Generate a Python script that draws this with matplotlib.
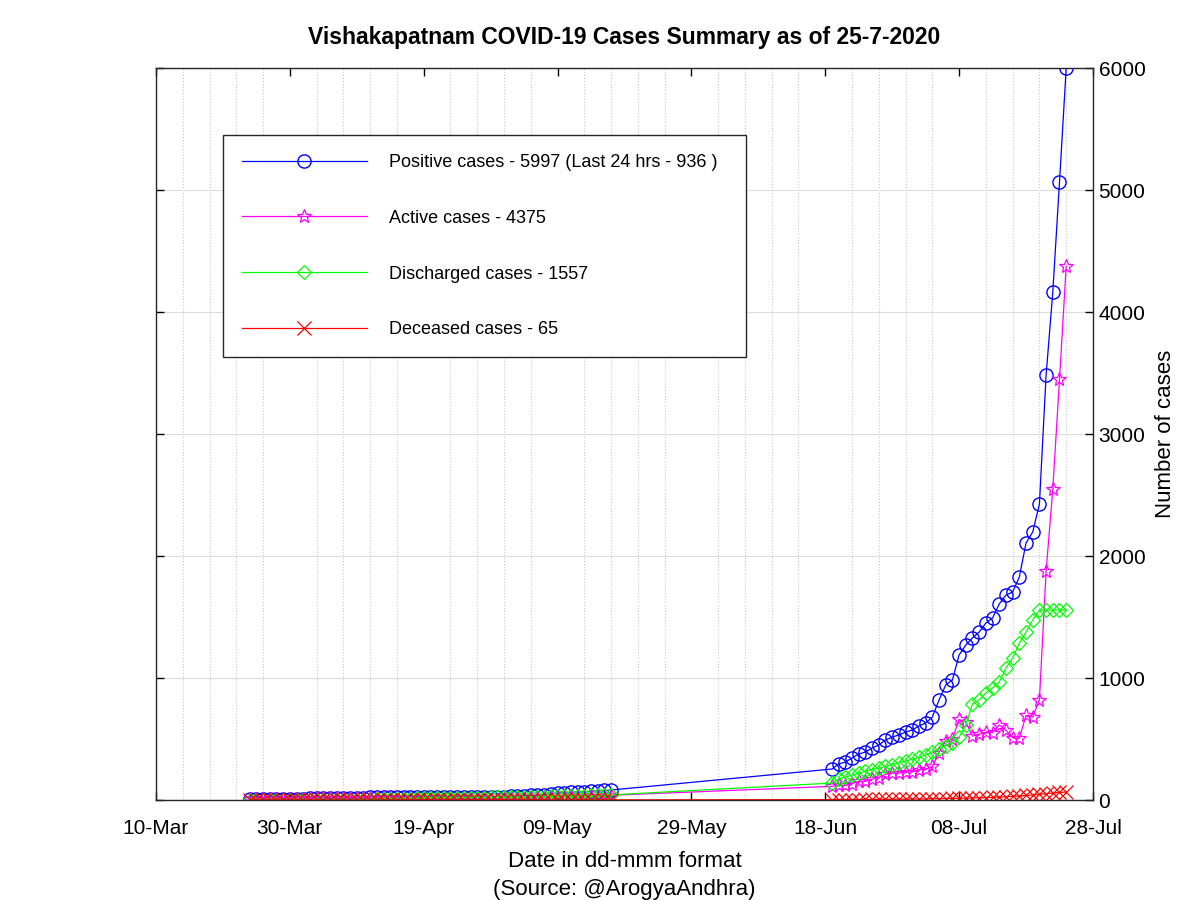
# Imports
import pandas as pd
import matplotlib
matplotlib.use('Agg')
import matplotlib.pyplot as plt
import matplotlib.dates as mdates

plt.rcParams['font.family'] = ['Liberation Sans', 'DejaVu Sans']

# Data: two daily stretches (24-Mar..17-May, 19-Jun..24-Jul)
dates = list(pd.date_range('2020-03-24', '2020-05-17')) + list(pd.date_range('2020-06-19', '2020-07-24'))

positive = [6, 6, 6, 6, 7, 8, 11, 11, 11, 14,
            15, 15, 20, 20, 20, 20, 20, 20, 21, 21,
            21, 21, 21, 22, 22, 22, 22, 22, 22, 22,
            22, 22, 22, 22, 22, 24, 25, 26, 28, 30,
            32, 35, 38, 40, 45, 50, 57, 60, 63, 66,
            68, 70, 75, 78, 82,
            254, 295, 311, 344, 377, 393, 426, 451, 492, 516,
            533, 557, 574, 607, 631, 680, 820, 943, 984, 1189,
            1270, 1328, 1377, 1451, 1492, 1607, 1680, 1705, 1828, 2107,
            2197, 2426, 3484, 4164, 5066, 5997]

active = [6, 6, 6, 6, 7, 8, 11, 11, 11, 14,
          15, 15, 19, 19, 19, 19, 19, 17, 18, 16,
          15, 14, 12, 11, 9, 7, 4, 3, 3, 2,
          2, 1, 1, 1, 1, 3, 3, 4, 5, 6,
          7, 10, 12, 13, 16, 20, 26, 27, 29, 30,
          31, 32, 36, 37, 39,
          112, 120, 119, 135, 153, 153, 171, 184, 211, 220,
          221, 230, 231, 249, 252, 275, 389, 486, 501, 660,
          640, 524, 539, 554, 552, 616, 571, 511, 508, 693,
          680, 822, 1875, 2550, 3447, 4375]

discharged = [0, 0, 0, 0, 0, 0, 0, 0, 0, 0,
              0, 0, 1, 1, 1, 1, 1, 3, 3, 5,
              5, 6, 8, 10, 12, 14, 17, 18, 18, 19,
              19, 20, 20, 20, 20, 20, 21, 21, 22, 23,
              24, 24, 25, 26, 28, 29, 30, 32, 33, 35,
              36, 37, 38, 40, 42,
              139, 172, 189, 205, 220, 235, 250, 262, 275, 290,
              305, 320, 335, 350, 370, 395, 420, 445, 470, 515,
              615, 787, 820, 877, 918, 967, 1082, 1164, 1287, 1377,
              1475, 1557, 1557, 1557, 1557, 1557]

deceased = [0, 0, 0, 0, 0, 0, 0, 0, 0, 0,
            0, 0, 0, 0, 0, 0, 0, 0, 0, 0,
            1, 1, 1, 1, 1, 1, 1, 1, 1, 1,
            1, 1, 1, 1, 1, 1, 1, 1, 1, 1,
            1, 1, 1, 1, 1, 1, 1, 1, 1, 1,
            1, 1, 1, 1, 1,
            3, 3, 3, 4, 4, 5, 5, 5, 6, 6,
            7, 7, 8, 8, 9, 10, 11, 12, 13, 14,
            15, 17, 18, 20, 22, 24, 27, 30, 33, 37,
            42, 47, 52, 57, 62, 65]

labels = ['Positive cases - 5997 (Last 24 hrs - 936 )',
          'Active cases - 4375',
          'Discharged cases - 1557',
          'Deceased cases - 65']

# Plot
fig = plt.figure(figsize=(12, 9), dpi=100)
ax = fig.add_axes([0.13, 0.1111, 0.7808, 0.8133])

ax.plot(dates, positive, color='#0000ff', marker='o', markersize=9.5, markerfacecolor='none', linewidth=0.9, label=labels[0])
ax.plot(dates, active, color='#ff00ff', marker='*', markersize=10, markerfacecolor='none', markeredgewidth=0.9, linewidth=0.9, label=labels[1])
ax.plot(dates, discharged, color='#00ff00', marker='D', markersize=7.5, markerfacecolor='none', markeredgewidth=0.9, linewidth=0.9, label=labels[2])
ax.plot(dates, deceased, color='#ff0000', marker='x', markersize=10.5, markeredgewidth=0.9, linewidth=0.9, label=labels[3])

ax.set_xlim(pd.Timestamp('2020-03-10'), pd.Timestamp('2020-07-28'))
ax.set_ylim(0, 6000)
ax.set_xticks(pd.date_range('2020-03-10', '2020-07-28', freq='20D'))
ax.xaxis.set_major_formatter(mdates.DateFormatter('%d-%b'))
ax.set_xticks(pd.date_range('2020-03-10', '2020-07-28', freq='4D'), minor=True)
ax.set_yticks(range(0, 6001, 1000))

ax.yaxis.tick_right()
ax.yaxis.set_label_position('right')
ax.tick_params(which='major', direction='in', length=6, top=True, bottom=True, left=True, right=True,
               labelsize=15, width=1)
ax.tick_params(axis='x', which='major', pad=14)
ax.tick_params(axis='y', which='major', pad=4)
ax.tick_params(which='minor', length=0)
ax.grid(axis='x', which='minor', linestyle=':', color='#c8c8c8', linewidth=0.8)
ax.grid(axis='y', which='major', linestyle='-', color='#dcdcdc', linewidth=0.8)
for s in ax.spines.values():
    s.set_linewidth(1)
    s.set_color('#262626')

ax.set_title('Vishakapatnam COVID-19 Cases Summary as of 25-7-2020', fontsize=16.5, fontweight='bold', pad=17)
ax.set_xlabel('Date in dd-mmm format\n(Source: @ArogyaAndhra)', fontsize=16, labelpad=9, linespacing=1.45)
ax.set_ylabel('Number of cases', fontsize=16, labelpad=7)

leg = ax.legend(loc='upper left', bbox_to_anchor=(0.0715, 0.5, 0.558, 0.4085), mode='expand',
                fontsize=13, handlelength=6.9, handletextpad=1.25, labelspacing=2.15, borderpad=1.05,
                borderaxespad=0, fancybox=False, framealpha=1, edgecolor='#262626')
leg.get_frame().set_linewidth(1)

fig.savefig('out.png', dpi=100)
